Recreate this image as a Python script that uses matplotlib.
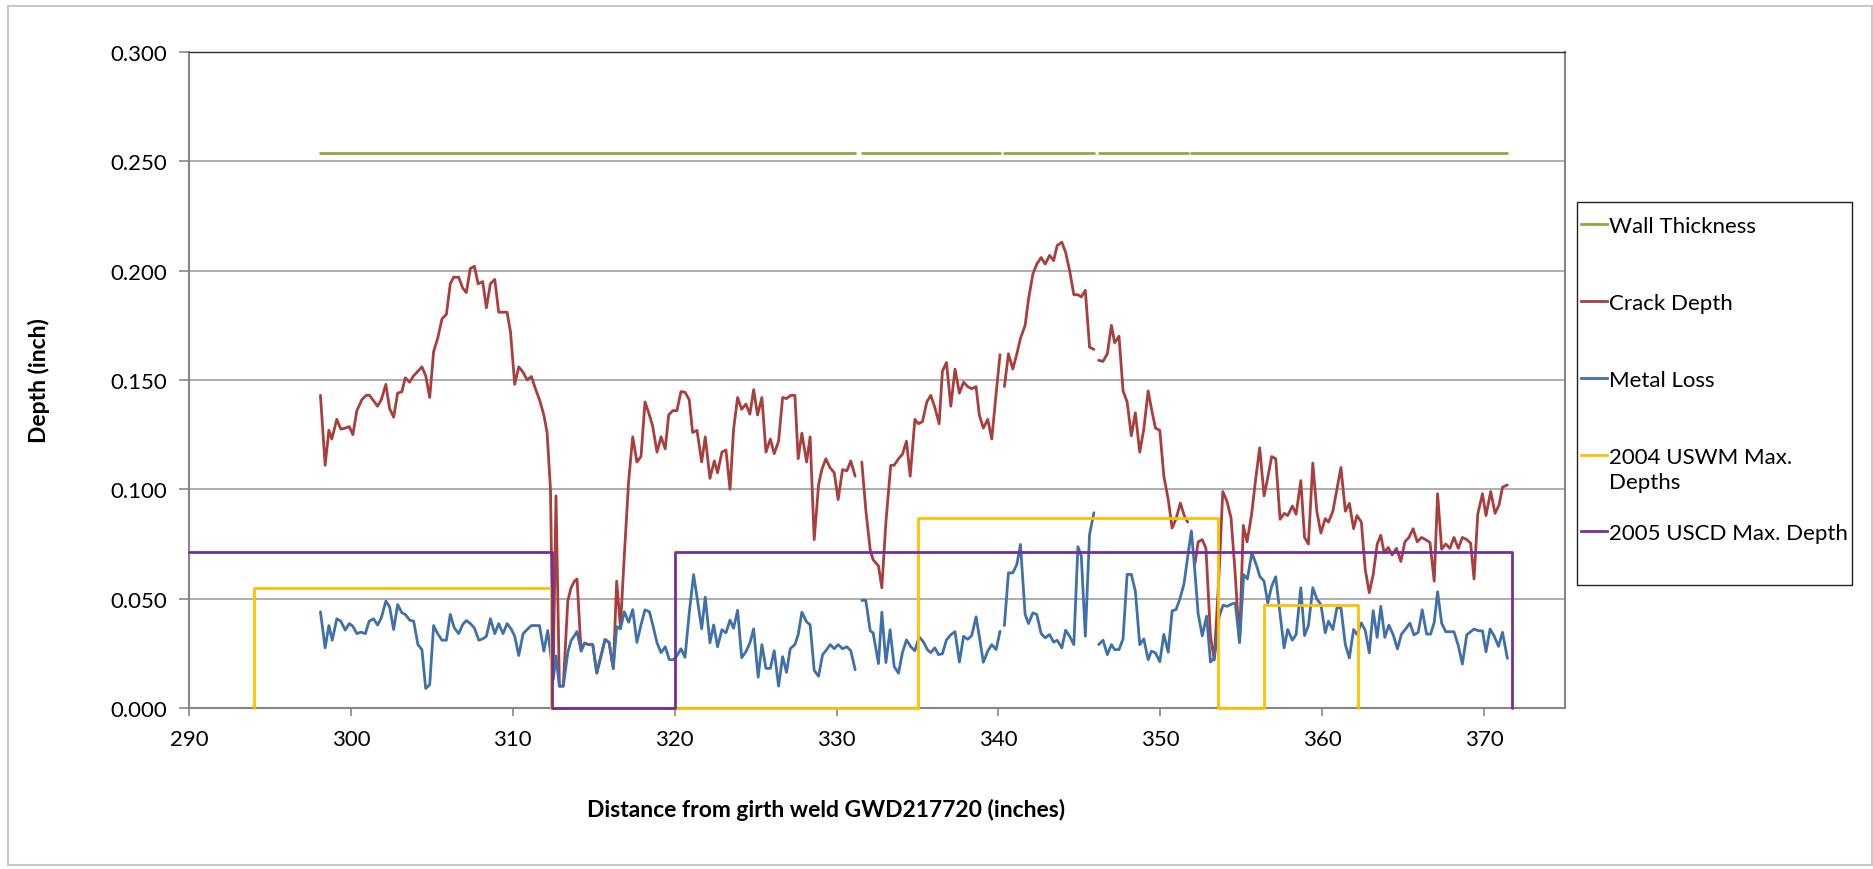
import numpy as np
import matplotlib
matplotlib.use('Agg')
import matplotlib.pyplot as plt
from matplotlib.lines import Line2D
from matplotlib.patches import Rectangle

plt.rcParams['font.family'] = ['Lato', 'DejaVu Sans']

# Crack depth (inch) vs distance (inch); None = no reading
crack_x = [298.12, 298.41, 298.64, 298.82, 299.13, 299.38, 299.65, 299.90, 300.12, 300.37,
           300.68, 300.95, 301.15, 301.40, 301.65, 301.88, 302.16, 302.39, 302.64, 302.89,
           303.15, 303.36, 303.63, 303.88, 304.14, 304.39, 304.62, 304.87, 305.11, 305.36,
           305.63, 305.90, 306.14, 306.35, 306.66, 306.91, 307.13, 307.38, 307.63, 307.86,
           308.14, 308.37, 308.62, 308.89, 309.13, 309.40, 309.65, 309.86, 310.12, 310.37,
           310.64, 310.89, 311.15, 311.40, 311.65, 311.92, 312.12, 312.33, 312.50, 312.67,
           312.88, 313.12, 313.40, 313.60, 313.81, 313.97, 314.22, 314.43, 314.67, 314.94,
           315.19, 315.45, 315.70, 315.95, 316.21, 316.42, 316.65, 316.90, 317.16, 317.41,
           317.67, 317.92, 318.17, 318.44, 318.64, 318.91, 319.16, 319.42, 319.63, 319.88,
           320.14, 320.39, 320.64, 320.90, 321.11, 321.38, 321.67, 321.89, 322.18, 322.45,
           322.65, 322.92, 323.17, 323.42, 323.64, 323.89, 324.14, 324.40, 324.65, 324.88,
           325.12, 325.39, 325.64, 325.91, 326.15, 326.42, 326.67, 326.91, 327.18, 327.43,
           327.63, 327.86, 328.15, 328.37, 328.62, 328.89, 329.09, 329.34, 329.59, 329.86,
           330.10, 330.37, 330.64, 330.88, 331.15, 331.35, 331.56, 331.81, 332.08, 332.26,
           332.59, 332.80, 333.05, 333.35, 333.56, 333.83, 334.07, 334.32, 334.55, 334.84,
           335.06, 335.31, 335.58, 335.82, 336.07, 336.34, 336.54, 336.79, 337.06, 337.32,
           337.59, 337.85, 338.10, 338.35, 338.62, 338.82, 339.07, 339.34, 339.59, 339.86,
           340.10, 340.24, 340.37, 340.62, 340.89, 341.14, 341.36, 341.65, 341.86, 342.13,
           342.37, 342.64, 342.89, 343.16, 343.41, 343.63, 343.92, 344.15, 344.40, 344.66,
           344.91, 345.12, 345.37, 345.63, 345.90, 346.05, 346.19, 346.46, 346.73, 346.98,
           347.18, 347.45, 347.70, 347.95, 348.21, 348.46, 348.73, 348.98, 349.25, 349.45,
           349.70, 349.97, 350.22, 350.49, 350.73, 350.97, 351.24, 351.48, 351.69, 351.92,
           352.14, 352.34, 352.59, 352.82, 353.10, 353.33, 353.62, 353.86, 354.12, 354.37,
           354.62, 354.89, 355.13, 355.36, 355.64, 355.89, 356.14, 356.41, 356.64, 356.88,
           357.13, 357.40, 357.65, 357.87, 358.16, 358.39, 358.68, 358.91, 359.15, 359.42,
           359.67, 359.92, 360.19, 360.39, 360.66, 360.91, 361.16, 361.43, 361.68, 361.94,
           362.15, 362.42, 362.66, 362.91, 363.15, 363.40, 363.62, 363.83, 364.08, 364.32,
           364.59, 364.86, 365.11, 365.36, 365.62, 365.87, 366.14, 366.39, 366.66, 366.92,
           367.13, 367.38, 367.63, 367.89, 368.14, 368.41, 368.66, 368.93, 369.17, 369.38,
           369.61, 369.90, 370.12, 370.41, 370.68, 370.93, 371.14, 371.44]
crack_depth = [0.143, 0.111, 0.127, 0.123, 0.132, 0.1275, 0.128, 0.1287, 0.125, 0.136,
               0.141, 0.143, 0.143, 0.1405, 0.138, 0.141, 0.148, 0.137, 0.133, 0.144,
               0.1446, 0.151, 0.149, 0.152, 0.154, 0.156, 0.152, 0.142, 0.163, 0.169,
               0.178, 0.180, 0.194, 0.197, 0.197, 0.192, 0.190, 0.201, 0.202, 0.194,
               0.195, 0.183, 0.194, 0.196, 0.181, 0.181, 0.181, 0.172, 0.148, 0.156,
               0.1535, 0.150, 0.1516, 0.146, 0.141, 0.134, 0.126, 0.100, 0.016, 0.097,
               0.010, 0.010, 0.049, 0.055, 0.058, 0.059, 0.026, 0.0297, 0.029, 0.029,
               0.016, 0.0237, 0.0313, 0.030, 0.018, 0.058, 0.037, 0.071, 0.104, 0.124,
               0.1125, 0.115, 0.140, 0.134, 0.129, 0.117, 0.124, 0.1185, 0.134, 0.136,
               0.136, 0.1447, 0.1444, 0.141, 0.126, 0.127, 0.1125, 0.124, 0.105, 0.113,
               0.1076, 0.117, 0.118, 0.100, 0.1275, 0.142, 0.1366, 0.139, 0.1344, 0.1456,
               0.134, 0.142, 0.117, 0.123, 0.1163, 0.122, 0.142, 0.1415, 0.143, 0.143,
               0.114, 0.1257, 0.1125, 0.124, 0.077, 0.102, 0.109, 0.114, 0.110, 0.1076,
               0.0953, 0.109, 0.1085, 0.113, 0.106, None, 0.1125, 0.0905, 0.0724, 0.0678,
               0.065, 0.055, 0.085, 0.111, 0.111, 0.114, 0.116, 0.122, 0.106, 0.132,
               0.130, 0.131, 0.140, 0.143, 0.1375, 0.130, 0.154, 0.158, 0.138, 0.155,
               0.144, 0.149, 0.147, 0.146, 0.147, 0.134, 0.128, 0.132, 0.123, 0.144,
               0.1616, None, 0.147, 0.162, 0.155, 0.162, 0.169, 0.175, 0.187, 0.1985,
               0.203, 0.206, 0.203, 0.207, 0.2046, 0.2115, 0.213, 0.2084, 0.200, 0.189,
               0.189, 0.188, 0.191, 0.165, 0.164, None, 0.159, 0.1585, 0.162, 0.175,
               0.167, 0.170, 0.145, 0.140, 0.1245, 0.135, 0.117, 0.1275, 0.145, 0.137,
               0.128, 0.127, 0.106, 0.0954, 0.0823, 0.0865, 0.0937, 0.088, 0.085, None,
               0.066, 0.076, 0.077, 0.073, 0.033, 0.022, 0.060, 0.099, 0.0945, 0.087,
               0.062, 0.030, 0.0835, 0.076, 0.0885, 0.1046, 0.119, 0.097, 0.1054, 0.115,
               0.114, 0.0863, 0.089, 0.088, 0.0924, 0.0886, 0.104, 0.078, 0.075, 0.112,
               0.090, 0.080, 0.0866, 0.085, 0.090, 0.100, 0.110, 0.090, 0.0936, 0.082,
               0.088, 0.085, 0.0634, 0.0527, 0.061, 0.075, 0.079, 0.071, 0.0734, 0.070,
               0.073, 0.067, 0.076, 0.078, 0.082, 0.076, 0.078, 0.077, 0.0757, 0.058,
               0.098, 0.0726, 0.075, 0.073, 0.078, 0.073, 0.078, 0.077, 0.0754, 0.059,
               0.0886, 0.098, 0.088, 0.099, 0.089, 0.093, 0.101, 0.102]

# Metal loss (inch)
metal_x = [298.12, 298.41, 298.64, 298.85, 299.13, 299.38, 299.65, 299.90, 300.12, 300.37,
           300.62, 300.89, 301.13, 301.40, 301.65, 301.88, 302.16, 302.39, 302.64, 302.89,
           303.15, 303.36, 303.63, 303.88, 304.14, 304.39, 304.62, 304.87, 305.11, 305.36,
           305.63, 305.90, 306.14, 306.39, 306.66, 306.91, 307.13, 307.38, 307.63, 307.90,
           308.14, 308.37, 308.62, 308.89, 309.13, 309.40, 309.65, 309.92, 310.12, 310.37,
           310.64, 310.89, 311.15, 311.40, 311.65, 311.92, 312.16, 312.33, 312.50, 312.67,
           312.88, 313.12, 313.40, 313.60, 313.81, 313.97, 314.22, 314.43, 314.67, 314.94,
           315.19, 315.45, 315.70, 315.95, 316.21, 316.42, 316.65, 316.89, 317.16, 317.41,
           317.67, 317.92, 318.17, 318.44, 318.68, 318.91, 319.16, 319.42, 319.67, 319.94,
           320.14, 320.39, 320.64, 320.90, 321.17, 321.42, 321.67, 321.89, 322.18, 322.41,
           322.65, 322.92, 323.17, 323.42, 323.64, 323.89, 324.14, 324.40, 324.65, 324.88,
           325.16, 325.39, 325.64, 325.91, 326.15, 326.42, 326.67, 326.91, 327.14, 327.43,
           327.63, 327.86, 328.15, 328.37, 328.62, 328.89, 329.14, 329.34, 329.61, 329.86,
           330.10, 330.37, 330.64, 330.88, 331.15, 331.35, 331.56, 331.81, 332.08, 332.26,
           332.59, 332.80, 333.05, 333.31, 333.56, 333.83, 334.07, 334.32, 334.59, 334.84,
           335.10, 335.37, 335.62, 335.82, 336.07, 336.30, 336.54, 336.79, 337.06, 337.32,
           337.59, 337.85, 338.10, 338.35, 338.62, 338.82, 339.07, 339.34, 339.59, 339.86,
           340.10, 340.24, 340.37, 340.62, 340.89, 341.14, 341.36, 341.65, 341.86, 342.13,
           342.37, 342.64, 342.89, 343.16, 343.41, 343.63, 343.92, 344.15, 344.40, 344.66,
           344.91, 345.12, 345.37, 345.63, 345.90, 346.05, 346.19, 346.46, 346.73, 346.98,
           347.18, 347.45, 347.70, 347.95, 348.21, 348.46, 348.73, 348.98, 349.25, 349.45,
           349.70, 349.97, 350.22, 350.49, 350.73, 350.97, 351.20, 351.46, 351.69, 351.92,
           352.12, 352.34, 352.59, 352.86, 353.10, 353.35, 353.64, 353.88, 354.13, 354.39,
           354.63, 354.90, 355.15, 355.38, 355.66, 355.95, 356.16, 356.41, 356.64, 356.88,
           357.13, 357.40, 357.65, 357.87, 358.16, 358.39, 358.68, 358.91, 359.15, 359.42,
           359.67, 359.92, 360.19, 360.39, 360.66, 360.91, 361.16, 361.43, 361.68, 361.94,
           362.15, 362.42, 362.66, 362.91, 363.15, 363.40, 363.62, 363.87, 364.12, 364.39,
           364.65, 364.90, 365.15, 365.42, 365.67, 365.93, 366.18, 366.45, 366.70, 366.92,
           367.13, 367.38, 367.63, 367.89, 368.14, 368.41, 368.66, 368.93, 369.17, 369.38,
           369.65, 369.90, 370.12, 370.37, 370.62, 370.89, 371.14, 371.44]
metal_loss = [0.044, 0.0275, 0.0377, 0.031, 0.0408, 0.0397, 0.0356, 0.0386, 0.0374, 0.034,
              0.0347, 0.034, 0.0397, 0.0408, 0.0379, 0.0412, 0.0489, 0.0463, 0.0359, 0.0473,
              0.0435, 0.0428, 0.0402, 0.0397, 0.029, 0.0267, 0.0089, 0.0107, 0.0377, 0.034,
              0.031, 0.031, 0.0428, 0.0366, 0.034, 0.0382, 0.040, 0.0386, 0.0366, 0.031,
              0.0316, 0.0328, 0.0408, 0.034, 0.0386, 0.034, 0.0386, 0.0359, 0.0328, 0.024,
              0.034, 0.0359, 0.0377, 0.0377, 0.0377, 0.026, 0.0354, 0.0254, 0.013, 0.0238,
              0.010, 0.010, 0.0254, 0.0308, 0.0331, 0.035, 0.0262, 0.0297, 0.029, 0.029,
              0.016, 0.0237, 0.0313, 0.030, 0.018, 0.0372, 0.0362, 0.044, 0.0392, 0.045,
              0.030, 0.038, 0.0449, 0.044, 0.0371, 0.0298, 0.0253, 0.028, 0.0221, 0.0221,
              0.0239, 0.0271, 0.0232, 0.0434, 0.061, 0.0488, 0.0362, 0.0507, 0.0298, 0.038,
              0.028, 0.0358, 0.0344, 0.0402, 0.0365, 0.0447, 0.023, 0.0257, 0.0298, 0.0362,
              0.0141, 0.029, 0.0181, 0.0181, 0.0262, 0.010, 0.0235, 0.0163, 0.0271, 0.029,
              0.0335, 0.0438, 0.0394, 0.038, 0.0172, 0.0145, 0.0244, 0.0262, 0.029, 0.0271,
              0.029, 0.0271, 0.028, 0.0262, 0.0175, None, 0.0492, 0.0492, 0.0353, 0.0344,
              0.0203, 0.0438, 0.0208, 0.0358, 0.019, 0.0159, 0.0253, 0.0311, 0.028, 0.0262,
              0.0326, 0.0302, 0.0266, 0.0253, 0.0275, 0.0244, 0.0248, 0.0311, 0.0335, 0.0349,
              0.021, 0.0328, 0.0314, 0.0331, 0.0417, 0.0328, 0.0209, 0.026, 0.029, 0.0267,
              0.0351, None, 0.0377, 0.0618, 0.0618, 0.0657, 0.0748, 0.0428, 0.0386, 0.0435,
              0.0428, 0.034, 0.0321, 0.0336, 0.0301, 0.031, 0.0275, 0.0356, 0.0328, 0.029,
              0.0738, 0.0695, 0.0328, 0.0794, 0.0893, None, 0.029, 0.031, 0.0244, 0.029,
              0.0267, 0.0267, 0.0316, 0.0611, 0.0611, 0.0534, 0.029, 0.0316, 0.0221, 0.026,
              0.0252, 0.0212, 0.0337, 0.0255, 0.0444, 0.045, 0.0497, 0.0566, 0.069, 0.081,
              0.064, 0.043, 0.033, 0.042, 0.021, 0.023, 0.042, 0.047, 0.0465, 0.0475,
              0.048, 0.030, 0.061, 0.059, 0.071, 0.065, 0.060, 0.058, 0.048, 0.0557,
              0.060, 0.0428, 0.0275, 0.0359, 0.031, 0.0336, 0.055, 0.0331, 0.0377, 0.055,
              0.0499, 0.0473, 0.0344, 0.0397, 0.0359, 0.0458, 0.0458, 0.029, 0.0229, 0.0359,
              0.0336, 0.0389, 0.0355, 0.0252, 0.0445, 0.0323, 0.0465, 0.0323, 0.0379, 0.0334,
              0.027, 0.0338, 0.0361, 0.0388, 0.0334, 0.0346, 0.0449, 0.0338, 0.0338, 0.0391,
              0.0532, 0.0388, 0.0349, 0.0349, 0.0349, 0.0285, 0.0201, 0.0334, 0.0349, 0.0361,
              0.0353, 0.0353, 0.0257, 0.0361, 0.033, 0.0282, 0.0346, 0.0227]

# Wall thickness, drawn in segments between missing readings
wall_thickness = 0.254
wall_start = [298.12, 331.56, 340.37, 346.19, 351.92]
wall_end = [331.15, 340.10, 345.90, 351.69, 371.44]

# Inspection maximum depths (step outlines)
uswm_x = [294.0, 294.0, 312.35, 312.35, 335.05, 335.05, 353.55, 353.55, 356.42, 356.42, 362.2, 362.2]
uswm_y = [0.0, 0.055, 0.055, 0.0, 0.0, 0.0867, 0.0867, 0.0, 0.0, 0.047, 0.047, 0.0]
uscd_x = [290.0, 312.42, 312.42, 320.0, 320.0, 371.7, 371.7]
uscd_y = [0.0714, 0.0714, 0.0, 0.0, 0.0714, 0.0714, 0.0]

labels = ['Wall Thickness', 'Crack Depth', 'Metal Loss', '2004 USWM Max.\nDepths', '2005 USCD Max. Depth']
colors = ['#8AAA48', '#A83F3C', '#3F70AA', '#FFC000', '#7030A0']

W, H = 1874, 870
fig = plt.figure(figsize=(W / 100, H / 100), dpi=100)
ax = fig.add_axes([189 / W, 1 - 709 / H, (1565 - 189) / W, (709 - 53) / H])

lw = 2.0
line_kw = dict(linewidth=lw, solid_capstyle='round', solid_joinstyle='round')

for xs, xe in zip(wall_start, wall_end):
    ax.plot([xs, xe], [wall_thickness, wall_thickness], color=colors[0], zorder=3, **line_kw)
ax.plot(crack_x, np.array(crack_depth, dtype=float), color=colors[1], zorder=4, **line_kw)
ax.plot(metal_x, np.array(metal_loss, dtype=float), color=colors[2], zorder=5, **line_kw)
ax.plot(uswm_x, uswm_y, color=colors[3], zorder=6, clip_on=False, **line_kw)
ax.plot(uscd_x, uscd_y, color=colors[4], zorder=7, clip_on=False, **line_kw)

ax.set_xlim(290, 375)
ax.set_ylim(0, 0.3)
ax.set_xticks(np.arange(290, 371, 10))
ax.set_yticks(np.arange(0, 0.301, 0.05))
ax.yaxis.set_major_formatter(matplotlib.ticker.FormatStrFormatter('%.3f'))
ax.grid(True, axis='y', color='#A0A0A0', linewidth=1.2)
ax.set_axisbelow(True)

ax.tick_params(axis='both', labelsize=16, color='#868686', width=1.2, direction='out')
ax.tick_params(axis='y', length=7, pad=9)
ax.tick_params(axis='x', length=6, pad=9)

for side in ['left', 'bottom']:
    ax.spines[side].set_color('#868686')
    ax.spines[side].set_linewidth(1.5)
ax.spines['top'].set_color('#303030')
ax.spines['top'].set_linewidth(1.0)
ax.spines['right'].set_color('#868686')
ax.spines['right'].set_linewidth(1.5)

ax.set_ylabel('Depth (inch)', fontsize=16.5, fontweight='bold')
ax.yaxis.set_label_coords((50 - 189) / (1565 - 189), 0.5)
ax.set_xlabel('Distance from girth weld GWD217720 (inches)', fontsize=16.5, fontweight='bold')
ax.xaxis.set_label_coords((826 - 189) / (1565 - 189), (709 - 799) / (709 - 53))

# legend box drawn by hand to follow the original spacing
fig.patches.append(Rectangle((1577 / W, 1 - 586 / H), (1852 - 1577) / W, (586 - 203) / H,
                             transform=fig.transFigure, facecolor='white', edgecolor='#202020',
                             linewidth=1.0, zorder=1))
entry_y = [225, 302, 379, 456, 532]
for lab, col, py in zip(labels, colors, entry_y):
    fig.lines.append(Line2D([1581 / W, 1607 / W], [1 - py / H, 1 - py / H], transform=fig.transFigure,
                            color=col, linewidth=2.0, zorder=2))
    fig.text(1609 / W, 1 - (py - 8) / H, lab, fontsize=16, va='top', ha='left', linespacing=1.3, zorder=3)

# chart area border
fig.patches.append(Rectangle((8 / W, 1 - 866 / H), (1872 - 8) / W, (866 - 7) / H,
                             transform=fig.transFigure, facecolor='none', edgecolor='#C8C8C8',
                             linewidth=1.5, zorder=0))

fig.savefig('out.png', dpi=100)
